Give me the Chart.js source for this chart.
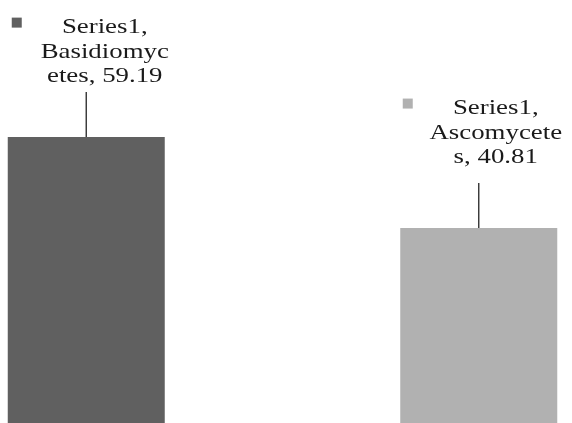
<!DOCTYPE html>
<html>
<head>
<meta charset="utf-8">
<script src="https://cdn.jsdelivr.net/npm/chart.js@4"></script>
<style>
  html, body { margin: 0; padding: 0; background: #fff; overflow: hidden; width: 572px; height: 423px; }
  #wrap { position: absolute; left: -110px; top: 0; width: 785px; height: 430px; }
</style>
</head>
<body>
<div id="wrap"><canvas id="chart" width="785" height="430"></canvas></div>
<script>
// dados do gráfico
const seriesName = 'Series1';
const categories = ['Basidiomycetes', 'Ascomycetes'];
const values = [59.19, 40.81];
const barColors = ['#606060', '#b1b1b1'];
// onde o Excel quebrou o nome da categoria no rótulo
const labelBreaks = [10, 10];

// rótulos com linha de chamada, como no Excel
const calloutLabels = {
    id: 'calloutLabels',
    afterDatasetsDraw(chart, args, opts) {
        const ctx = chart.ctx;
        const meta = chart.getDatasetMeta(0);
        meta.data.forEach(function(bar, i) {
            const off = opts.offsets[i];
            const cat = categories[i];
            const lines = [
                seriesName + ',',
                cat.slice(0, labelBreaks[i]),
                cat.slice(labelBreaks[i]) + ', ' + values[i].toFixed(2)
            ];
            const tx = bar.x + off.dx;
            const ty = bar.y + off.dy;

            ctx.save();
            // linha de chamada
            ctx.strokeStyle = '#333';
            ctx.lineWidth = 1.4;
            ctx.beginPath();
            ctx.moveTo(bar.x, bar.y);
            ctx.lineTo(bar.x, bar.y - 45);
            ctx.stroke();

            // marcador da legenda
            ctx.fillStyle = barColors[i];
            ctx.fillRect(tx - 88 - 5, ty - 10.5 - 5, 10, 10);

            // texto (a fonte do original é um pouco esticada na horizontal)
            ctx.fillStyle = '#1a1a1a';
            ctx.font = '22px "Liberation Serif", "Times New Roman", serif';
            ctx.textAlign = 'center';
            ctx.textBaseline = 'alphabetic';
            lines.forEach(function(t, k) {
                ctx.save();
                ctx.translate(tx, ty + k * 24.5);
                ctx.scale(1.22, 1);
                ctx.fillText(t, 0, 0);
                ctx.restore();
            });
            ctx.restore();
        });
    }
};

new Chart(document.getElementById('chart'), {
    type: 'bar',
    data: {
        labels: categories,
        datasets: [{
            label: seriesName,
            data: values,
            backgroundColor: barColors,
            borderWidth: 0,
            categoryPercentage: 1,
            barPercentage: 0.4
        }]
    },
    options: {
        responsive: false,
        animation: false,
        devicePixelRatio: 1,
        layout: { padding: 0 },
        plugins: {
            legend: { display: false },
            tooltip: { enabled: false },
            calloutLabels: {
                offsets: [{ dx: 18.5, dy: -104 }, { dx: 17, dy: -114 }]
            }
        },
        scales: {
            x: { display: false },
            y: { display: false, min: 0, max: 86.9 }
        }
    },
    plugins: [calloutLabels]
});
</script>
</body>
</html>
